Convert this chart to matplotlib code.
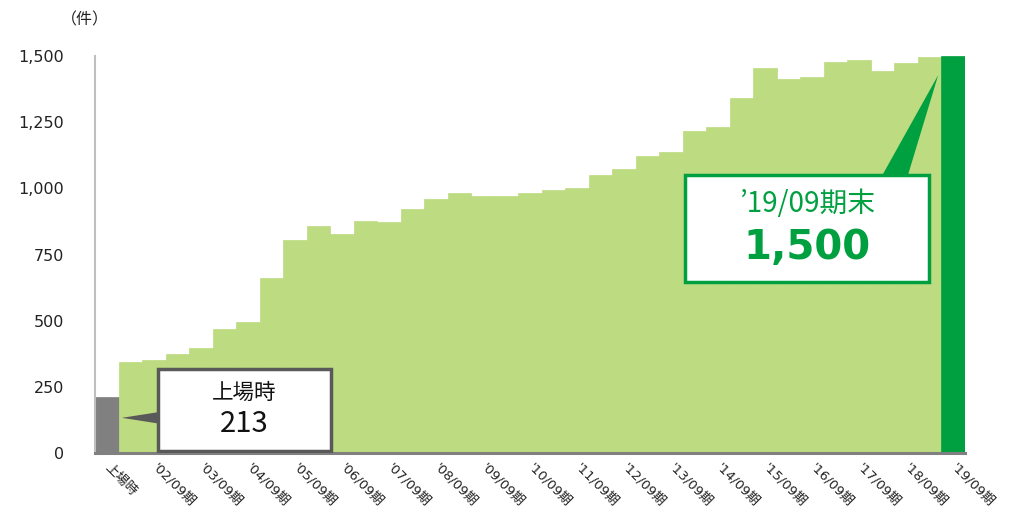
import matplotlib
matplotlib.use("Agg")
import matplotlib.pyplot as plt
from matplotlib.patches import Rectangle, Polygon

plt.rcParams['font.family'] = ['Noto Sans CJK JP', 'DejaVu Sans']

# listing, then semiannual periods '02/03 ... '19/09
periods = ['上場時'] + ["'%02d/%s期" % (y, m) for y in range(2, 20) for m in ('03', '09')]

counts = [213, 344, 352, 373, 398, 468, 495, 660, 805, 858,
          827, 877, 871, 922, 961, 984, 971, 972, 983, 995,
          1002, 1050, 1075, 1123, 1138, 1217, 1232, 1340, 1454, 1415,
          1422, 1476, 1485, 1444, 1474, 1498, 1500]

light = '#bddb80'
dark = '#00a040'
grey = '#808080'
box_grey = '#595959'

colors = [grey] + [light] * (len(counts) - 2) + [dark]

fig = plt.figure(figsize=(10.09, 5.25), dpi=100)
ax = fig.add_axes([0.0942, 0.1371, 0.8622, 0.7562])

x = list(range(len(counts)))
ax.bar(x, counts, width=1.0, color=colors, edgecolor=colors, linewidth=0.5, zorder=2)

ax.set_xlim(-0.5, len(counts) - 0.5)
ax.set_ylim(0, 1500)

ax.set_yticks([0, 250, 500, 750, 1000, 1250, 1500])
ax.set_yticklabels(['0', '250', '500', '750', '1,000', '1,250', '1,500'],
                   fontsize=11.5, family='DejaVu Sans', color='#222222')
ax.tick_params(axis='y', length=0, pad=22)

tick_pos = x[::2]
ax.set_xticks(tick_pos)
ax.set_xticklabels([periods[i] for i in tick_pos], rotation=-45, ha='left',
                   va='center', rotation_mode='anchor', fontsize=9.5,
                   family=['DejaVu Sans', 'Noto Sans CJK JP'], color='#222222')
ax.tick_params(axis='x', length=0, pad=9)

for s in ('top', 'right'):
    ax.spines[s].set_visible(False)
ax.spines['left'].set_color('#bfbfbf')
ax.spines['left'].set_linewidth(1.5)
ax.spines['bottom'].set_color(grey)
ax.spines['bottom'].set_linewidth(2.2)
ax.spines['bottom'].set_zorder(3)

fig.text(0.060, 0.962, '（件）', fontsize=11.5, ha='left', va='center', color='#222222')

# listing callout
ax.add_patch(Polygon([[2.3, 156], [2.3, 110], [0.64, 133]], closed=True,
                     facecolor=box_grey, edgecolor='none', zorder=4))
ax.add_patch(Rectangle((2.18, 8), 9.54 - 2.18, 318 - 8, facecolor='white',
                       edgecolor=box_grey, linewidth=2.5, zorder=5))
ax.text(5.86, 227, '上場時', fontsize=15.5, ha='center', va='center', color='#111111', zorder=6)
ax.text(5.86, 108, '213', fontsize=21, ha='center', va='center', color='#111111', zorder=6)

# latest callout
ax.add_patch(Polygon([[32.98, 1049], [34.07, 1049], [35.36, 1428]], closed=True,
                     facecolor=dark, edgecolor='none', zorder=4))
ax.add_patch(Rectangle((24.6, 648), 34.95 - 24.6, 1051 - 648, facecolor='white',
                       edgecolor=dark, linewidth=2.5, zorder=5))
ax.text(29.78, 941, '’19/09期末', fontsize=20, ha='center', va='center', color=dark, zorder=6)
ax.text(29.78, 776, '1,500', fontsize=29, fontweight='bold', family='DejaVu Sans',
        ha='center', va='center', color=dark, zorder=6)

fig.savefig('out.png', dpi=100)
